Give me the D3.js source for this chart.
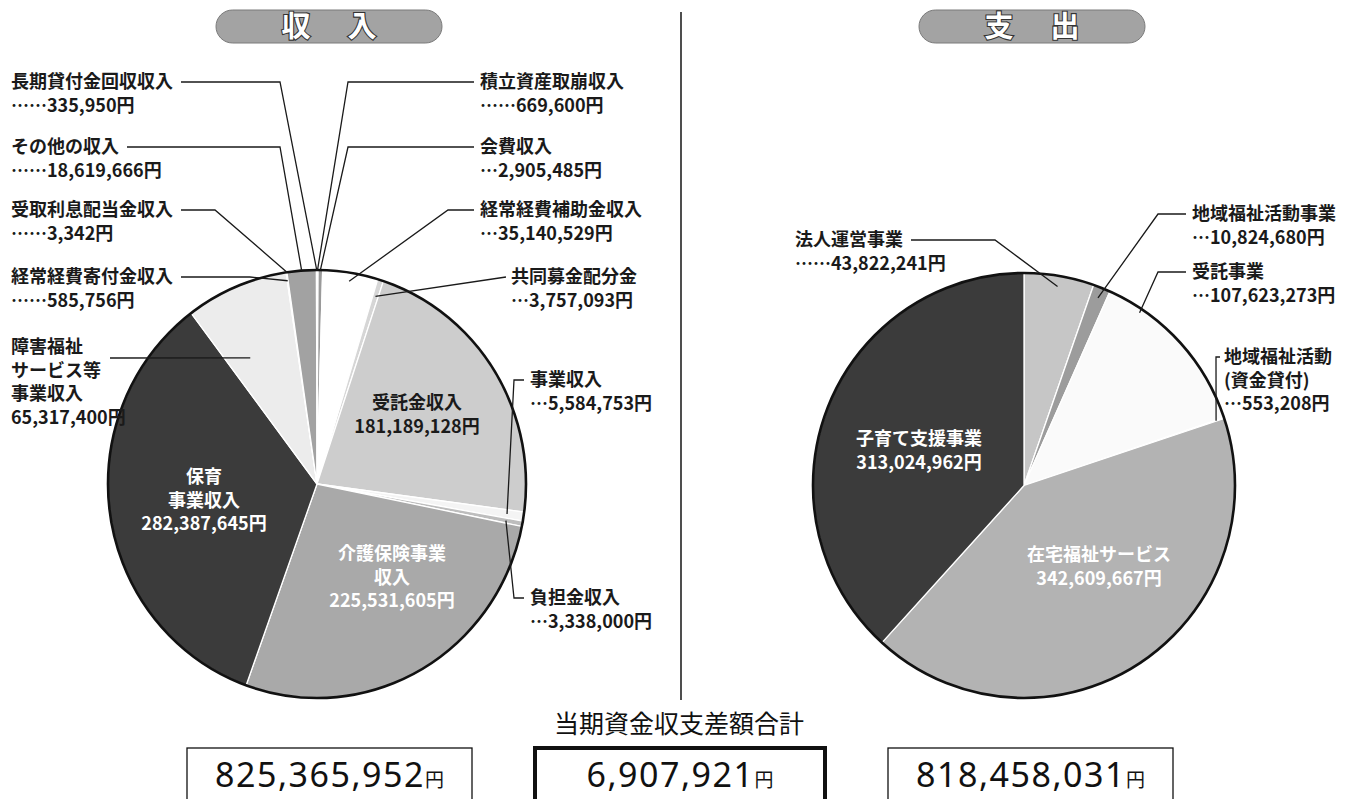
<!DOCTYPE html>
<html lang="ja">
<head>
<meta charset="utf-8">
<script src="https://cdn.jsdelivr.net/npm/d3@7"></script>
<style>
  html, body { margin: 0; padding: 0; background: #fff; }
  svg { display: block; font-family: "Noto Sans CJK JP", "Noto Sans", sans-serif; }
</style>
</head>
<body>
<svg id="chart" width="1362" height="799"></svg>
<script>
(function() {
    'use strict';

    // 収入 (clockwise from 12 o'clock)
    const incomeLabels = [
        '積立資産取崩収入', '会費収入', '経常経費補助金収入', '共同募金配分金',
        '受託金収入', '事業収入', '負担金収入', '介護保険事業収入', '保育事業収入',
        '障害福祉サービス等事業収入', '経常経費寄付金収入', '受取利息配当金収入',
        'その他の収入', '長期貸付金回収収入'
    ];
    const incomeValues = [
        669600, 2905485, 35140529, 3757093,
        181189128, 5584753, 3338000, 225531605, 282387645,
        65317400, 585756, 3342,
        18619666, 335950
    ];

    // 支出
    const expenseLabels = [
        '法人運営事業', '地域福祉活動事業', '受託事業', '地域福祉活動(資金貸付)',
        '在宅福祉サービス', '子育て支援事業'
    ];
    const expenseValues = [43822241, 10824680, 107623273, 553208, 342609667, 313024962];

    const totalIncome = 825365952;
    const totalDiff = 6907921;
    const totalExpense = 818458031;
    const diffTitle = '当期資金収支差額合計';

    const fmt = d3.format(',');
    const svg = d3.select('#chart');

    // fills approximating the printed halftones
    const incomeColors = ['#8c8c8c', '#9a9a9a', '#ffffff', '#d6d6d6', '#cdcdcd', '#f4f4f4',
        '#bdbdbd', '#a9a9a9', '#3b3b3b', '#ececec', '#bcbcbc', '#999', '#a2a2a2', '#8a8a8a'];
    const expenseColors = ['#c6c6c6', '#9c9c9c', '#fafafa', '#d8d8d8', '#b3b3b3', '#3b3b3b'];

    // label layout: lines, value prefix, text position, leader line
    // from: line start x, elbow: x where the line bends, t/k: point inside slice
    const incomeLayout = [
        { lines: ['積立資産取崩収入'], pre: '……', x: 480, y: 82, from: 474, elbow: 348, t: 0.5, k: 1.0 },
        { lines: ['会費収入'], pre: '…', x: 480, y: 147, from: 474, elbow: 348, t: 0.5, k: 1.0 },
        { lines: ['経常経費補助金収入'], pre: '…', x: 480, y: 210, from: 474, elbow: 448, t: 0.5, k: 0.96 },
        { lines: ['共同募金配分金'], pre: '…', x: 511, y: 277, from: 506, elbow: 506, t: 0.5, k: 0.92 },
        { inside: true, lines: ['受託金収入'], x: 417, y: 403, color: '#1a1a1a' },
        { lines: ['事業収入'], pre: '…', x: 530, y: 380, from: 524, elbow: 514, t: 0.5, k: 0.92 },
        { lines: ['負担金収入'], pre: '…', x: 530, y: 598, from: 524, elbow: 514, t: 0.5, k: 0.92 },
        { inside: true, lines: ['介護保険事業', '収入'], x: 392, y: 554, color: '#fff' },
        { inside: true, lines: ['保育', '事業収入'], x: 204, y: 477, color: '#fff' },
        { lines: ['障害福祉', 'サービス等', '事業収入'], pre: '', x: 11, y: 347, lineY: 358, from: 110, elbow: 110, t: 0.3, k: 0.67 },
        { lines: ['経常経費寄付金収入'], pre: '……', x: 11, y: 277, elbow: 250, t: 0.5, k: 0.96 },
        { lines: ['受取利息配当金収入'], pre: '……', x: 11, y: 210, elbow: 215, t: 0.5, k: 1.0 },
        { lines: ['その他の収入'], pre: '……', x: 11, y: 147, elbow: 280, t: 0.5, k: 1.0 },
        { lines: ['長期貸付金回収収入'], pre: '……', x: 11, y: 82, elbow: 280, t: 0.5, k: 1.0 }
    ];
    const expenseLayout = [
        { lines: ['法人運営事業'], pre: '……', x: 795, y: 240, elbow: 995, t: 0.5, k: 0.95 },
        { lines: ['地域福祉活動事業'], pre: '…', x: 1192, y: 214, from: 1186, elbow: 1158, t: 0.5, k: 0.95 },
        { lines: ['受託事業'], pre: '…', x: 1192, y: 272, from: 1186, elbow: 1158, t: 0.21, k: 0.98 },
        { lines: ['地域福祉活動', '(資金貸付)'], pre: '…', x: 1224, y: 357, from: 1220, elbow: 1216, t: 0.5, k: 0.96 },
        { inside: true, lines: ['在宅福祉サービス'], x: 1099, y: 555, color: '#fff' },
        { inside: true, lines: ['子育て支援事業'], x: 919, y: 439, color: '#fff' }
    ];

    const LH = 23.5;

    // Title pills
    function pill(cx, chars) {
        const g = svg.append('g');
        g.append('rect')
            .attr('x', cx - 113).attr('y', 10)
            .attr('width', 226).attr('height', 33)
            .attr('rx', 16.5)
            .attr('fill', '#a3a3a3')
            .attr('stroke', '#7a7a7a')
            .attr('stroke-width', 1);
        chars.forEach((c, i) => {
            g.append('text')
                .attr('x', cx + (i === 0 ? -33 : 33))
                .attr('y', 27)
                .attr('dy', '0.36em')
                .attr('text-anchor', 'middle')
                .attr('font-size', '29px')
                .attr('font-weight', 'bold')
                .attr('fill', '#fff')
                .attr('stroke', '#333')
                .attr('stroke-width', 2.2)
                .attr('paint-order', 'stroke')
                .text(c);
        });
    }
    pill(329, ['収', '入']);
    pill(1032, ['支', '出']);

    // Divider
    svg.append('line')
        .attr('x1', 681).attr('x2', 681)
        .attr('y1', 12).attr('y2', 700)
        .attr('stroke', '#222').attr('stroke-width', 1.6);

    function drawPie(cfg) {
        const arcs = d3.pie().sort(null).value(d => d)(cfg.values);
        const arc = d3.arc().innerRadius(0).outerRadius(cfg.rx);
        const sy = cfg.ry / cfg.rx;

        const g = svg.append('g')
            .attr('transform', `translate(${cfg.cx},${cfg.cy}) scale(1,${sy})`);

        g.selectAll('path.slice')
            .data(arcs)
            .join('path')
            .attr('class', 'slice')
            .attr('d', arc)
            .attr('fill', (d, i) => cfg.colors[i])
            .attr('stroke', '#fff')
            .attr('stroke-width', 1.3)
            .attr('vector-effect', 'non-scaling-stroke');

        g.append('circle')
            .attr('r', cfg.rx)
            .attr('fill', 'none')
            .attr('stroke', '#111')
            .attr('stroke-width', 2.6)
            .attr('vector-effect', 'non-scaling-stroke');

        // point inside a slice, in page coordinates
        function anchor(d, t, k) {
            const a = d.startAngle + t * (d.endAngle - d.startAngle);
            const r = k * cfg.rx;
            return [cfg.cx + r * Math.sin(a), cfg.cy - r * Math.cos(a) * sy];
        }

        const lab = svg.append('g').attr('class', 'labels');
        arcs.forEach((d, i) => {
            const L = cfg.layout[i];
            const valText = (L.pre || '') + fmt(cfg.values[i]) + '円';
            const lines = L.lines.concat([valText]);

            const txt = lab.append('text')
                .attr('text-anchor', L.inside ? 'middle' : 'start')
                .attr('font-size', '18px')
                .attr('font-weight', 'bold')
                .attr('fill', L.inside ? L.color : '#1a1a1a');
            lines.forEach((s, j) => {
                txt.append('tspan')
                    .attr('x', L.x)
                    .attr('y', L.y + j * LH)
                    .attr('dy', '0.36em')
                    .text(s);
            });
            if (L.inside) return;

            // Leader line
            const ly = L.lineY != null ? L.lineY : L.y;
            let x0 = L.from;
            if (x0 == null) {
                const w = txt.select('tspan').node().getComputedTextLength();
                x0 = L.x + w + 8;
            }
            const end = anchor(d, L.t, L.k);
            lab.append('polyline')
                .attr('points', [[x0, ly], [L.elbow, ly], end].map(p => p.join(',')).join(' '))
                .attr('fill', 'none')
                .attr('stroke', '#1a1a1a')
                .attr('stroke-width', 1.3);
        });
    }

    drawPie({ cx: 317, cy: 484, rx: 209, ry: 214, values: incomeValues, colors: incomeColors, layout: incomeLayout });
    drawPie({ cx: 1024, cy: 485.5, rx: 211, ry: 212.5, values: expenseValues, colors: expenseColors, layout: expenseLayout });

    // Totals
    svg.append('text')
        .attr('x', 679).attr('y', 724)
        .attr('dy', '0.36em')
        .attr('text-anchor', 'middle')
        .attr('font-size', '25px')
        .attr('fill', '#111')
        .text(diffTitle);

    const boxes = [
        { v: totalIncome, x: 187, w: 285, sw: 1.3 },
        { v: totalDiff, x: 535, w: 290, sw: 4 },
        { v: totalExpense, x: 888, w: 285, sw: 1.3 }
    ];
    boxes.forEach(b => {
        svg.append('rect')
            .attr('x', b.x).attr('y', 748)
            .attr('width', b.w).attr('height', 70)
            .attr('fill', '#fff')
            .attr('stroke', '#111')
            .attr('stroke-width', b.sw);
        const t = svg.append('text')
            .attr('x', b.x + b.w / 2).attr('y', 787)
            .attr('text-anchor', 'middle')
            .attr('font-family', '"Noto Sans", sans-serif')
            .attr('fill', '#111');
        t.append('tspan')
            .attr('font-size', '34px')
            .attr('letter-spacing', '1.5px')
            .text(fmt(b.v));
        t.append('tspan')
            .attr('font-family', '"Noto Sans CJK JP", sans-serif')
            .attr('font-size', '19px')
            .text('円');
    });
})();
</script>
</body>
</html>
